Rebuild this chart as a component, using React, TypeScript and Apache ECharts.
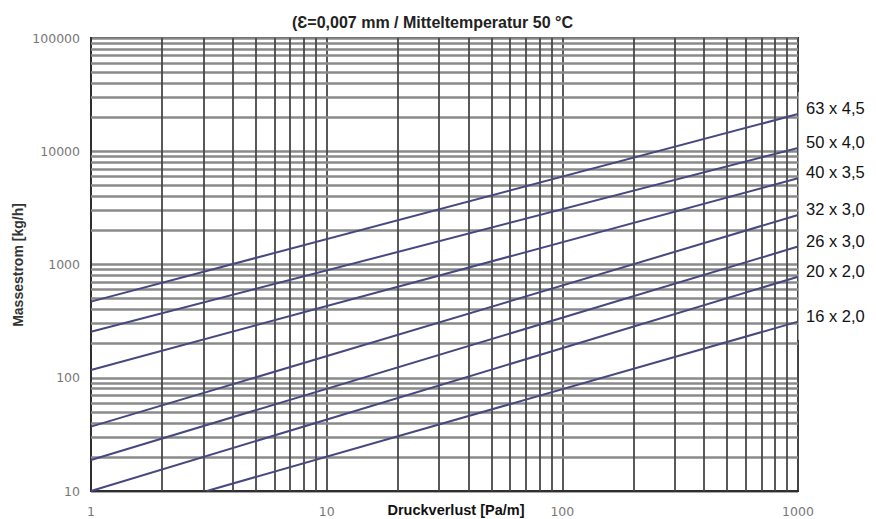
import React, { useEffect, useRef } from 'react';
import * as echarts from 'echarts';

// Pipe dimensions (outer diameter x wall thickness)
const seriesNames = ['63 x 4,5', '50 x 4,0', '40 x 3,5', '32 x 3,0', '26 x 3,0', '20 x 2,0', '16 x 2,0'];
// Start points (Druckverlust Pa/m, Massestrom kg/h)
const startX = [1, 1, 1, 1, 1, 1, 3.1];
const startY = [470, 255, 117, 37, 18.8, 10, 10];
// End points
const endX = [1000, 1000, 1000, 1000, 1000, 1000, 1000];
const endY = [21300, 10700, 5770, 2740, 1440, 780, 313];

const xDecades = [1, 10, 100];
const yDecades = [10, 100, 1000, 10000];
const minorFactors = [2, 3, 4, 5, 6, 7, 8, 9];

const titleText = '(Ɛ=0,007 mm / Mitteltemperatur 50 °C';
const xName = 'Druckverlust [Pa/m]';
const yName = 'Massestrom [kg/h]';

export default function App() {
  const ref = useRef<HTMLDivElement>(null);

  useEffect(() => {
    if (!ref.current) return;
    const chart = echarts.init(ref.current, null, { renderer: 'svg' });
    const font = '"Liberation Sans", Arial, Helvetica, sans-serif';
    const labelFont = '"DejaVu Sans", sans-serif';

    const minorX: number[] = [];
    xDecades.forEach((d) => minorFactors.forEach((f) => minorX.push(d * f)));
    const minorY: number[] = [];
    yDecades.forEach((d) => minorFactors.forEach((f) => minorY.push(d * f)));

    const vStyle = { color: '#484848', width: 1.8, type: 'solid' };
    const hStyle = { color: '#8a8a8a', width: 2.6, type: 'solid' };

    const gridSeries = {
      type: 'line',
      name: 'grid',
      data: [],
      silent: true,
      z: 1,
      markLine: {
        silent: true,
        animation: false,
        symbol: ['none', 'none'],
        label: { show: false },
        emphasis: { disabled: true },
        z: 1,
        data: [
          ...minorY.map((v) => ({ yAxis: v, lineStyle: hStyle })),
          ...minorX.map((v) => ({ xAxis: v, lineStyle: vStyle })),
        ],
      },
    };

    const lineSeries = seriesNames.map((name, i) => ({
      type: 'line',
      name,
      data: [
        [startX[i], startY[i]],
        [endX[i], endY[i]],
      ],
      symbol: 'none',
      showSymbol: false,
      silent: true,
      z: 5,
      lineStyle: { color: '#45497f', width: 2 },
    }));

    const axisLabelFmt = (v: number) => String(Math.round(v));

    chart.setOption({
      animation: false,
      textStyle: { fontFamily: font },
      title: {
        text: titleText,
        left: 287,
        top: 9,
        textStyle: { fontFamily: font, fontSize: 16, fontWeight: 'bold', color: '#222' },
      },
      grid: {
        left: 91,
        right: 78,
        top: 38,
        bottom: 28,
        show: true,
        backgroundColor: '#fff',
        borderColor: '#2e2e2e',
        borderWidth: 2,
      },
      xAxis: {
        type: 'log',
        logBase: 10,
        min: 1,
        max: 1000,
        axisLine: { show: true, onZero: false, lineStyle: { color: '#2e2e2e', width: 2 } },
        axisTick: { show: false },
        axisLabel: {
          formatter: axisLabelFmt,
          color: '#777',
          fontSize: 12.5,
          fontFamily: labelFont,
          margin: 14,
        },
        splitLine: { show: true, lineStyle: vStyle },
      },
      yAxis: {
        type: 'log',
        logBase: 10,
        min: 10,
        max: 100000,
        axisLine: { show: true, onZero: false, lineStyle: { color: '#2e2e2e', width: 2 } },
        axisTick: { show: false },
        axisLabel: {
          formatter: axisLabelFmt,
          color: '#777',
          fontSize: 12.5,
          fontFamily: labelFont,
          margin: 11,
        },
        splitLine: { show: true, lineStyle: hStyle },
      },
      series: [gridSeries, ...lineSeries],
    });

    const labelGraphics = seriesNames.map((name, i) => {
      const p = chart.convertToPixel({ gridIndex: 0 }, [endX[i], endY[i]]) as number[];
      return {
        type: 'text',
        z: 101,
        x: 806,
        y: p[1] - 6,
        style: {
          text: name,
          fontFamily: font,
          fontSize: 16.5,
          fill: '#111',
          textVerticalAlign: 'middle',
          verticalAlign: 'middle',
        },
      };
    });

    chart.setOption({
      graphic: [
        {
          type: 'rect',
          z: 100,
          shape: { x: 798.5, y: 92, width: 78, height: 248 },
          style: { fill: '#fff' },
        },
        ...labelGraphics,
        {
          type: 'text',
          z: 101,
          x: 18,
          y: 265,
          rotation: Math.PI / 2,
          style: {
            text: yName,
            fontFamily: font,
            fontSize: 14,
            fontWeight: 'bold',
            fill: '#333',
            textAlign: 'center',
            align: 'center',
            verticalAlign: 'middle',
            textVerticalAlign: 'middle',
          },
        },
        {
          type: 'text',
          z: 101,
          x: 456,
          y: 510,
          style: {
            text: xName,
            fontFamily: font,
            fontSize: 14.5,
            fontWeight: 'bold',
            fill: '#111',
            textAlign: 'center',
            align: 'center',
            verticalAlign: 'middle',
            textVerticalAlign: 'middle',
          },
        },
      ],
    });

    return () => chart.dispose();
  }, []);

  return (
    <div
      ref={ref}
      style={{ position: 'absolute', left: 0, top: 0, width: 876, height: 519, background: '#fff' }}
    />
  );
}
